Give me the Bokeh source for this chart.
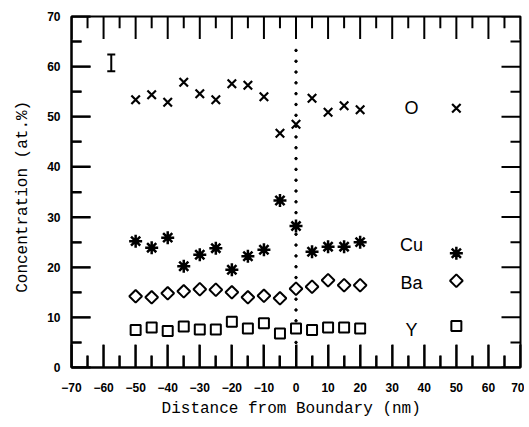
import math
import numpy as np
from bokeh.plotting import figure
from bokeh.models import Range1d, FixedTicker
from bokeh.core.properties import value
from bokeh.embed import file_html
from bokeh.resources import INLINE

# ---- data ----
distance = [-50, -45, -40, -35, -30, -25, -20, -15, -10, -5, 0, 5, 10, 15, 20]
conc_O  = [53.4, 54.4, 52.9, 56.9, 54.6, 53.4, 56.6, 56.3, 54.0, 46.7, 48.5, 53.7, 50.9, 52.2, 51.4]
conc_Cu = [25.2, 23.9, 25.9, 20.2, 22.5, 23.8, 19.5, 22.2, 23.5, 33.3, 28.2, 23.1, 24.1, 24.1, 25.0]
conc_Ba = [14.2, 14.0, 14.8, 15.2, 15.6, 15.5, 15.0, 14.0, 14.3, 13.8, 15.7, 16.1, 17.4, 16.4, 16.4]
conc_Y  = [7.5, 8.0, 7.3, 8.2, 7.6, 7.6, 9.1, 7.8, 8.8, 6.8, 7.8, 7.5, 8.0, 8.0, 7.8]

legend_labels = ["O", "Cu", "Ba", "Y"]
legend_label_x = [36, 36, 36, 36]
legend_label_y = [51.7, 24.5, 16.9, 7.5]
legend_marker_x = [50, 50, 50, 50]
legend_marker_y = [51.7, 22.8, 17.3, 8.3]

errbar_x = [-57.6]
errbar_low = [59.1]
errbar_high = [62.4]

boundary_x = 0
boundary_y0, boundary_y1 = 5.0, 64.0

x_ticks = list(range(-70, 71, 10))
x_minor = list(range(-65, 70, 10))
y_ticks = list(range(0, 71, 10))
y_minor = list(range(5, 70, 10))

X0, X1, Y0, Y1 = -70, 70, 0, 70

# ---- layout (pixels) ----
W, H = 524, 420
BL, BR, BT, BB = 71, 4, 16, 47
FW, FH = W - BL - BR, H - BT - BB
HMAJ, HMIN = 23, 12   # tick lengths on horizontal edges
VMAJ, VMIN = 19, 10   # tick lengths on vertical edges

p = figure(width=W, height=H, output_backend="svg", toolbar_location=None,
           x_range=Range1d(X0, X1), y_range=Range1d(Y0, Y1),
           min_border_left=BL, min_border_right=BR, min_border_top=BT, min_border_bottom=BB)
p.grid.visible = False
p.outline_line_color = "black"
p.outline_line_width = 2

for ax, ticks, minor, tmaj, tmin in ((p.xaxis[0], x_ticks, x_minor, HMAJ, HMIN),
                                     (p.yaxis[0], y_ticks, y_minor, VMAJ, VMIN)):
    ax.ticker = FixedTicker(ticks=ticks, minor_ticks=minor)
    ax.axis_line_color = "black"
    ax.axis_line_width = 2
    ax.major_tick_line_color = "black"
    ax.minor_tick_line_color = "black"
    ax.major_tick_line_width = 2
    ax.minor_tick_line_width = 2
    ax.major_tick_in = tmaj
    ax.major_tick_out = 0
    ax.minor_tick_in = tmin
    ax.minor_tick_out = 0
    ax.major_label_text_font = "Liberation Sans"
    ax.major_label_text_font_style = "bold"
    ax.major_label_text_font_size = "12px"
    ax.major_label_text_color = "black"
    ax.axis_label_text_font = "Liberation Mono"
    ax.axis_label_text_font_style = "normal"
    ax.axis_label_text_font_size = "16px"
    ax.axis_label_text_color = "black"
p.xaxis[0].major_label_standoff = 15
p.yaxis[0].major_label_standoff = 11
p.xaxis.axis_label = "Distance from Boundary  (nm)"
p.yaxis.axis_label = "Concentration  (at.%)"
p.xaxis[0].axis_label_standoff = 5
p.yaxis[0].axis_label_standoff = 12

# boundary dotted line (dots every ~11 px)
dot_y = list(np.arange(boundary_y0, boundary_y1 + 0.01, 11 * (Y1 - Y0) / FH))
p.scatter([boundary_x] * len(dot_y), dot_y, marker="circle", size=2.5,
          fill_color="black", line_color="black")

# data
def draw(xs, ys):
    p.scatter(xs[0], ys[0], marker="x", size=12, line_color="black", line_width=2.2)
    p.scatter(xs[1], ys[1], marker="asterisk", size=13, line_color="black", line_width=2.5)
    p.scatter(xs[2], ys[2], marker="square", size=9, angle=math.pi / 4, line_color="black",
              line_width=2, fill_color="white")
    p.scatter(xs[3], ys[3], marker="square", size=10, line_color="black", line_width=2,
              fill_color="white")

draw([distance] * 4, [conc_O, conc_Cu, conc_Ba, conc_Y])
draw([[x] for x in legend_marker_x], [[y] for y in legend_marker_y])

p.text(legend_label_x, legend_label_y, text=legend_labels, text_align="center",
       text_baseline="middle", text_font=value("Liberation Sans"), text_font_size="18px",
       text_color="black")

# representative error bar
p.segment(x0=errbar_x, y0=errbar_low, x1=list(errbar_x), y1=errbar_high,
          line_color="black", line_width=2)
p.scatter(errbar_x * 2, errbar_low + errbar_high, marker="dash", size=8,
          line_color="black", line_width=2)

# inward ticks on all four sides (lengths in px converted to data units)
ux = (X1 - X0) / FW
uy = (Y1 - Y0) / FH
hx0, hy0, hy1 = [], [], []
for xs, length in ((x_ticks, HMAJ), (x_minor, HMIN)):
    for x in xs:
        hx0 += [x, x]
        hy0 += [Y0, Y1]
        hy1 += [Y0 + length * uy, Y1 - length * uy]
p.segment(x0=hx0, y0=hy0, x1=list(hx0), y1=hy1, line_color="#000000", line_width=2)
vy0, vx0, vx1 = [], [], []
for ys, length in ((y_ticks, VMAJ), (y_minor, VMIN)):
    for y in ys:
        vy0 += [y, y]
        vx0 += [X0, X1]
        vx1 += [X0 + length * ux, X1 - length * ux]
p.segment(x0=vx0, y0=vy0, x1=vx1, y1=list(vy0), line_color="#000000", line_width=2)

open("out.html", "w").write(file_html(p, INLINE))
